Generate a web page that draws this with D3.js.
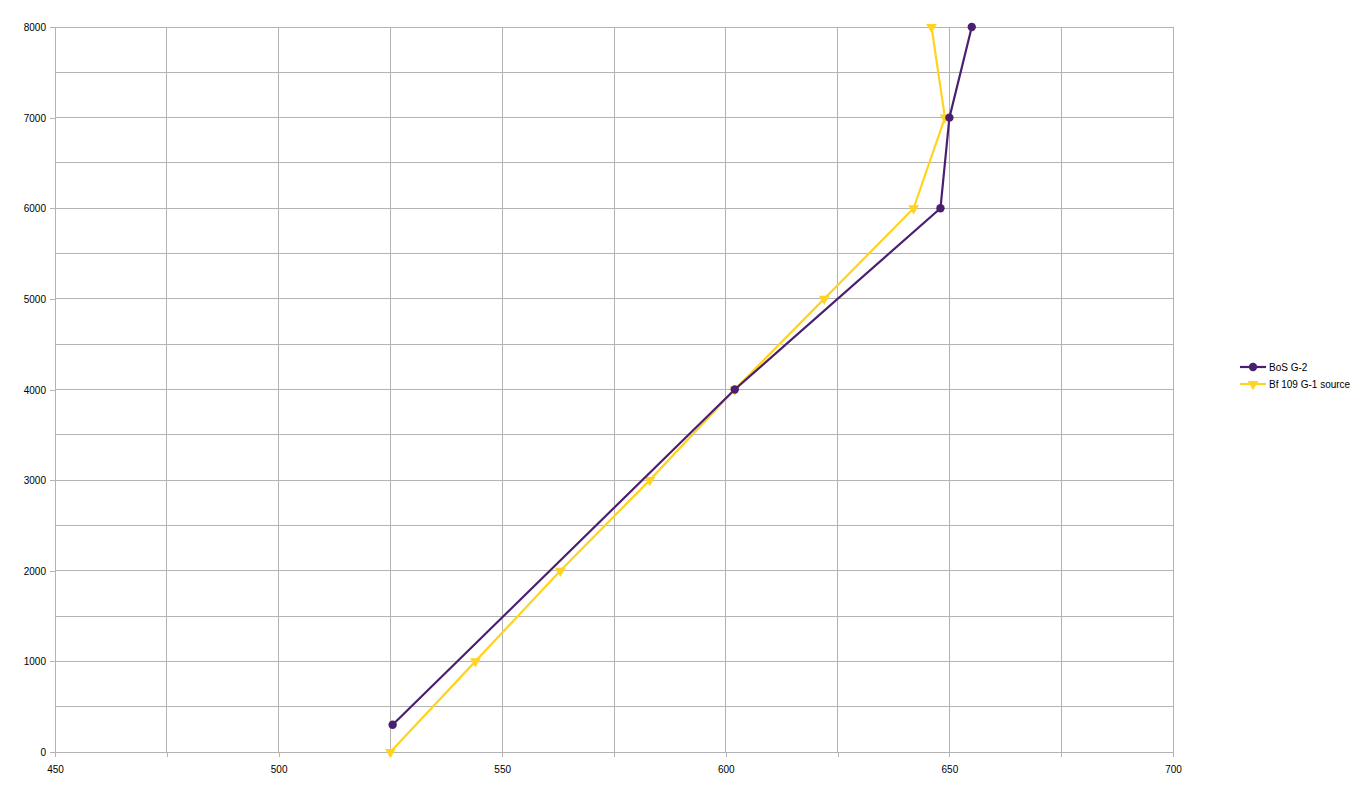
<!DOCTYPE html>
<html><head><meta charset="utf-8">
<script src="https://cdn.jsdelivr.net/npm/d3@7"></script>
<style>body{margin:0;background:#fff}svg{display:block}text{font-family:"Liberation Sans",Arial,sans-serif;font-size:10px;fill:#000}</style>
</head><body>
<script>
const seriesNames = ["BoS G-2", "Bf 109 G-1 source"];
const bosSpeed = [525.5, 602, 648, 650, 655];
const bosAlt = [300, 4000, 6000, 7000, 8000];
const bfSpeed = [525, 544, 563, 583, 602, 622, 642, 649, 646];
const bfAlt = [0, 1000, 2000, 3000, 4000, 5000, 6000, 7000, 8000];
const xTicks = [450, 500, 550, 600, 650, 700];
const yTicks = [0, 1000, 2000, 3000, 4000, 5000, 6000, 7000, 8000];
const colors = ["#4b1f6f", "#ffd320"];

const W = 1356, H = 789;
const svg = d3.select("body").append("svg").attr("width", W).attr("height", H);
const x = d3.scaleLinear().domain([450, 700]).range([55, 1173]);
const y = d3.scaleLinear().domain([0, 8000]).range([752, 27]);

const grid = svg.append("g");
d3.range(450, 701, 25).forEach(v => {
  grid.append("line").attr("x1", x(v)).attr("x2", x(v)).attr("y1", y(0)).attr("y2", y(8000))
    .attr("stroke", "#b3b3b3").attr("stroke-width", 1).attr("shape-rendering", "crispEdges");
});
d3.range(0, 8001, 500).forEach(v => {
  grid.append("line").attr("x1", x(450)).attr("x2", x(700)).attr("y1", y(v)).attr("y2", y(v))
    .attr("stroke", "#b3b3b3").attr("stroke-width", 1).attr("shape-rendering", "crispEdges");
});

const xAxis = svg.append("g").attr("transform", `translate(0,${y(0)})`)
  .call(d3.axisBottom(x).tickValues(d3.range(450, 701, 25)).tickSize(5).tickFormat(d => xTicks.includes(d) ? d : ""));
const yAxis = svg.append("g").attr("transform", `translate(${x(450)},0)`)
  .call(d3.axisLeft(y).tickValues(yTicks).tickSize(5).tickFormat(d => d));
[xAxis, yAxis].forEach(a => {
  a.selectAll("path").attr("stroke", "#b3b3b3").attr("shape-rendering", "crispEdges");
  a.selectAll("line").attr("stroke", "#b3b3b3").attr("shape-rendering", "crispEdges");
  a.selectAll("text").style("font-family", '"Liberation Sans",Arial,sans-serif').style("font-size", "10px").attr("fill", "#000");
});
xAxis.selectAll("text").attr("dy", "1.3em");
yAxis.selectAll("text").attr("dy", "0.35em").attr("x", -9);

const line = d3.line().x(d => x(d[0])).y(d => y(d[1]));
const bos = bosSpeed.map((s, i) => [s, bosAlt[i]]);
const bf = bfSpeed.map((s, i) => [s, bfAlt[i]]);

const tri = d3.symbol().type(d3.symbolTriangle).size(50);
svg.append("path").datum(bf).attr("d", line).attr("fill", "none").attr("stroke", colors[1]).attr("stroke-width", 2.2);
svg.selectAll(".bfm").data(bf).enter().append("path")
  .attr("d", tri).attr("transform", d => `translate(${x(d[0])},${y(d[1])}) rotate(180)`).attr("fill", colors[1]);

svg.append("path").datum(bos).attr("d", line).attr("fill", "none").attr("stroke", colors[0]).attr("stroke-width", 2.2);
svg.selectAll(".bosm").data(bos).enter().append("circle")
  .attr("cx", d => x(d[0])).attr("cy", d => y(d[1])).attr("r", 4.2).attr("fill", colors[0]);

const leg = svg.append("g");
seriesNames.forEach((n, i) => {
  const ly = 367 + i * 17;
  leg.append("line").attr("x1", 1240).attr("x2", 1266).attr("y1", ly).attr("y2", ly).attr("stroke", colors[i]).attr("stroke-width", 2.2);
  if (i === 0) leg.append("circle").attr("cx", 1253).attr("cy", ly).attr("r", 4.2).attr("fill", colors[0]);
  else leg.append("path").attr("d", tri).attr("transform", `translate(1253,${ly}) rotate(180)`).attr("fill", colors[1]);
  leg.append("text").attr("x", 1269).attr("y", ly).attr("dy", "0.35em").text(n);
});
</script>
</body></html>
